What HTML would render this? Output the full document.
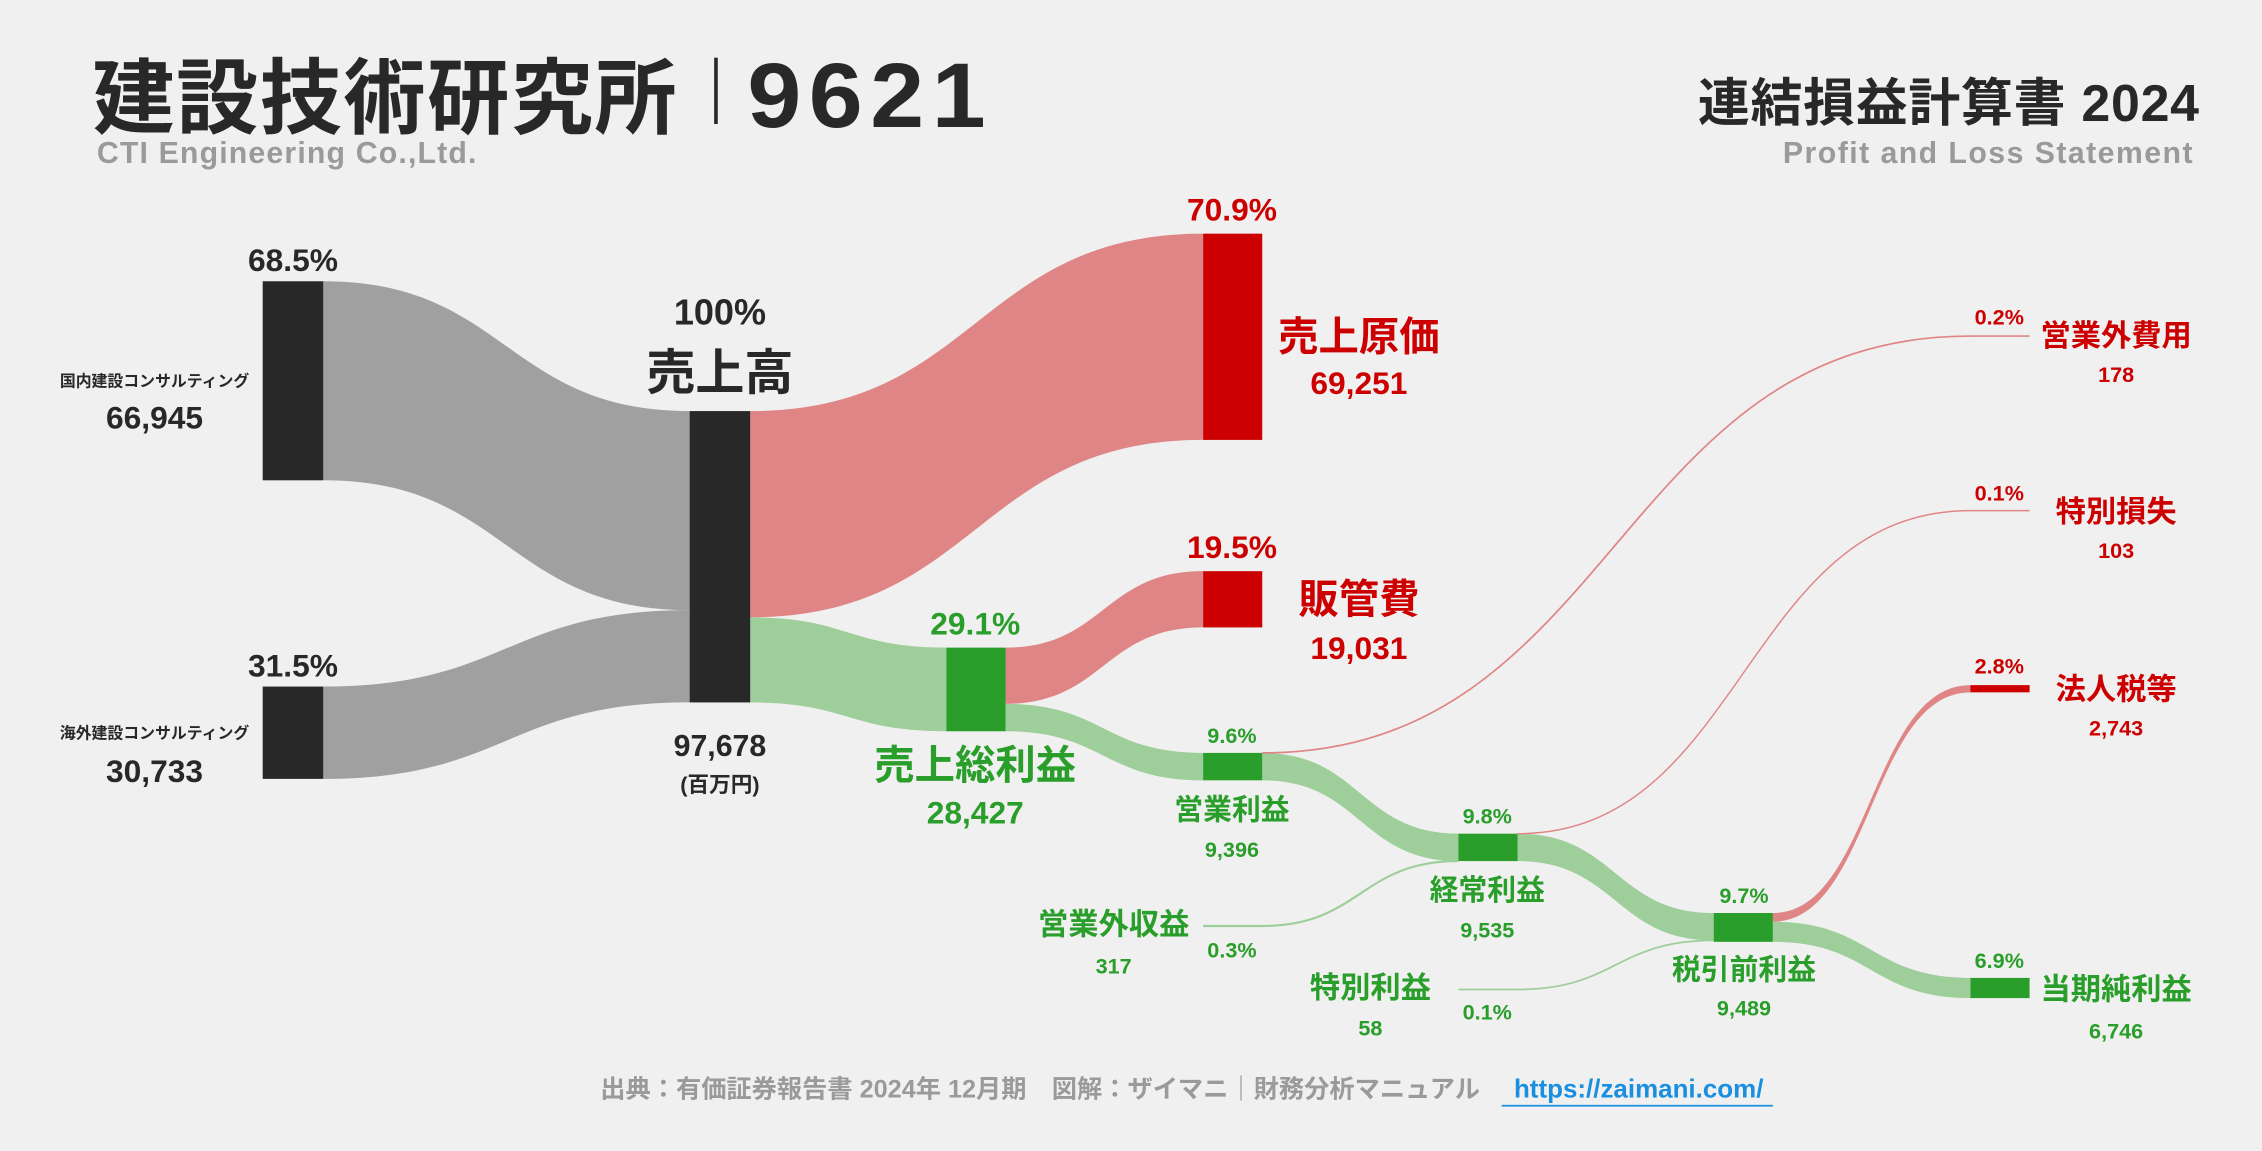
<!DOCTYPE html>
<html><head><meta charset="utf-8"><style>
html,body{margin:0;padding:0;background:#f0f0f0;}
svg{display:block;}
text{font-family:"Liberation Sans","Noto Sans CJK JP",sans-serif;font-weight:bold;}
.d{fill:#282828}.r{fill:#cc0000}.g{fill:#2a9e2a}.gr{fill:#9a9a9a}
</style></head><body>
<svg width="2262" height="1151" viewBox="0 0 1568 798" xmlns="http://www.w3.org/2000/svg">
<rect width="1568" height="798" fill="#f0f0f0"/>
<!-- header -->
<text x="64" y="88" class="d" font-size="57" font-family="Noto Sans CJK JP" font-weight="900" letter-spacing="1">建設技術研究所</text>
<rect x="495" y="40" width="2.5" height="46" fill="#282828"/>
<text x="518" y="88" class="d" font-size="64" letter-spacing="5" transform="translate(518 88) scale(1.05 1) translate(-518 -88)">9621</text>
<text x="67" y="113" class="gr" font-size="21" letter-spacing="0.8">CTI Engineering Co.,Ltd.</text>
<text x="1525" y="84" class="d" font-size="36" text-anchor="end" letter-spacing="0.5">連結損益計算書 2024</text>
<text x="1521" y="113" class="gr" font-size="21" text-anchor="end" letter-spacing="1">Profit and Loss Statement</text>

<!-- flows -->
<path d="M224 195 C351 195 351 285 478 285 L478 423 C351 423 351 333 224 333 Z" fill="#a0a0a0"/>
<path d="M224 476 C351 476 351 423 478 423 L478 487 C351 487 351 540 224 540 Z" fill="#a0a0a0"/>
<path d="M520 285 C677 285 677 162 834 162 L834 305 C677 305 677 428 520 428 Z" fill="#e08585"/>
<path d="M520 428 C588 428 588 449 656 449 L656 507 C588 507 588 487 520 487 Z" fill="#9ecf9a"/>
<path d="M697 449 C765 449 765 396 834 396 L834 435 C765 435 765 488 697 488 Z" fill="#e08585"/>
<path d="M697 488 C765 488 765 522 834 522 L834 541 C765 541 765 507 697 507 Z" fill="#9ecf9a"/>
<path d="M875 522 C943 522 943 578 1011 578 L1011 597 C943 597 943 541 875 541 Z" fill="#9ecf9a"/>
<path d="M1052 578 C1120 578 1120 633 1188 633 L1188 652 C1120 652 1120 597 1052 597 Z" fill="#9ecf9a"/>
<path d="M1229 639 C1297 639 1297 678 1366 678 L1366 692 C1297 692 1297 653 1229 653 Z" fill="#9ecf9a"/>
<path d="M1229 633 C1297 633 1297 475 1366 475 L1366 480 C1297 480 1297 639 1229 639 Z" fill="#e08585"/>
<path d="M875 522 C1120 522 1120 233 1366 233 L1407 233" fill="none" stroke="#e08585" stroke-width="1.2"/>
<path d="M1052 578 C1209 578 1209 354 1366 354 L1407 354" fill="none" stroke="#e08585" stroke-width="1"/>
<path d="M834 642 L875 642 C943 642 943 597 1011 597" fill="none" stroke="#9ecf9a" stroke-width="1.5"/>
<path d="M1011 686 L1052 686 C1120 686 1120 652 1188 652" fill="none" stroke="#9ecf9a" stroke-width="1.2"/>

<!-- nodes -->
<rect x="182" y="195" width="42" height="138" fill="#282828"/>
<rect x="182" y="476" width="42" height="64" fill="#282828"/>
<rect x="478" y="285" width="42" height="202" fill="#282828"/>
<rect x="834" y="162" width="41" height="143" fill="#cc0000"/>
<rect x="834" y="396" width="41" height="39" fill="#cc0000"/>
<rect x="656" y="449" width="41" height="58" fill="#2a9e2a"/>
<rect x="834" y="522" width="41" height="19" fill="#2a9e2a"/>
<rect x="1011" y="578" width="41" height="19" fill="#2a9e2a"/>
<rect x="1188" y="633" width="41" height="20" fill="#2a9e2a"/>
<rect x="1366" y="678" width="41" height="14" fill="#2a9e2a"/>
<rect x="1366" y="475" width="41" height="5" fill="#cc0000"/>

<!-- labels -->
<g text-anchor="middle">
<text x="203" y="188" class="d" font-size="22">68.5%</text>
<text x="107" y="268" class="d" font-size="11">国内建設コンサルティング</text>
<text x="107" y="297" class="d" font-size="22">66,945</text>
<text x="203" y="469" class="d" font-size="22">31.5%</text>
<text x="107" y="512" class="d" font-size="11">海外建設コンサルティング</text>
<text x="107" y="542" class="d" font-size="22">30,733</text>
<text x="499" y="225" class="d" font-size="25">100%</text>
<text x="499" y="270" class="d" font-size="34">売上高</text>
<text x="499" y="524" class="d" font-size="21">97,678</text>
<text x="499" y="549" class="d" font-size="15">(百万円)</text>

<text x="854" y="153" class="r" font-size="22">70.9%</text>
<text x="942" y="243" class="r" font-size="28">売上原価</text>
<text x="942" y="273" class="r" font-size="22">69,251</text>
<text x="854" y="387" class="r" font-size="22">19.5%</text>
<text x="942" y="425" class="r" font-size="28">販管費</text>
<text x="942" y="457" class="r" font-size="22">19,031</text>

<text x="676" y="440" class="g" font-size="22">29.1%</text>
<text x="676" y="540" class="g" font-size="28">売上総利益</text>
<text x="676" y="571" class="g" font-size="22">28,427</text>

<text x="854" y="515" class="g" font-size="15">9.6%</text>
<text x="854" y="568" class="g" font-size="20">営業利益</text>
<text x="854" y="594" class="g" font-size="15">9,396</text>
<text x="1031" y="571" class="g" font-size="15">9.8%</text>
<text x="1031" y="624" class="g" font-size="20">経常利益</text>
<text x="1031" y="650" class="g" font-size="15">9,535</text>
<text x="1209" y="626" class="g" font-size="15">9.7%</text>
<text x="1209" y="679" class="g" font-size="20">税引前利益</text>
<text x="1209" y="704" class="g" font-size="15">9,489</text>
<text x="1386" y="671" class="g" font-size="15">6.9%</text>
<text x="1467" y="693" class="g" font-size="21">当期純利益</text>
<text x="1467" y="720" class="g" font-size="15">6,746</text>

<text x="1386" y="467" class="r" font-size="15">2.8%</text>
<text x="1467" y="485" class="r" font-size="21">法人税等</text>
<text x="1467" y="510" class="r" font-size="15">2,743</text>
<text x="1386" y="225" class="r" font-size="15">0.2%</text>
<text x="1467" y="240" class="r" font-size="21">営業外費用</text>
<text x="1467" y="265" class="r" font-size="15">178</text>
<text x="1386" y="347" class="r" font-size="15">0.1%</text>
<text x="1467" y="362" class="r" font-size="21">特別損失</text>
<text x="1467" y="387" class="r" font-size="15">103</text>

<text x="772" y="648" class="g" font-size="21">営業外収益</text>
<text x="772" y="675" class="g" font-size="15">317</text>
<text x="854" y="664" class="g" font-size="15">0.3%</text>
<text x="950" y="692" class="g" font-size="21">特別利益</text>
<text x="950" y="718" class="g" font-size="15">58</text>
<text x="1031" y="707" class="g" font-size="15">0.1%</text>
</g>

<!-- footer -->
<text x="721" y="761" class="gr" font-size="17.5" text-anchor="middle">出典：有価証券報告書 2024年 12月期　図解：ザイマニ｜財務分析マニュアル</text>
<text x="1136" y="761" font-size="18" text-anchor="middle" fill="#1a8fe0">https://zaimani.com/</text>
<rect x="1041" y="766" width="188" height="1.2" fill="#1a8fe0"/>
</svg>
</body></html>
